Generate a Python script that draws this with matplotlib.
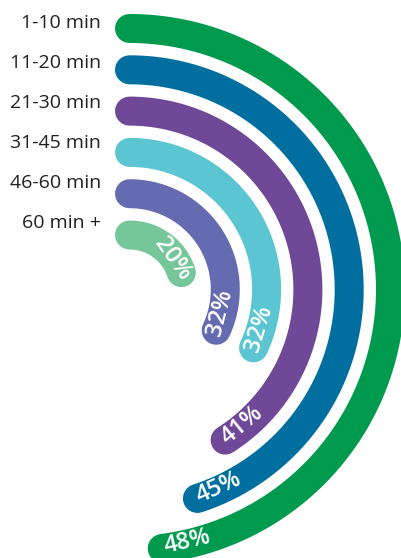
import matplotlib.pyplot as plt
import numpy as np

plt.rcParams['font.family'] = ['Open Sans', 'DejaVu Sans']

# commute time bands, outermost ring first
bands = ["1-10 min", "11-20 min", "21-30 min", "31-45 min", "46-60 min", "60 min +"]
shares = [48, 45, 41, 32, 32, 20]
colors = ["#009a4e", "#006e9f", "#6f4898", "#5bc5d1", "#656bb0", "#75c698"]

W, H = 401, 558
cx, cy = 129.5, 289.5      # ring centre, in pixels
r_outer = 261
ring_step = 41.3
ring_width = 29            # px

fig = plt.figure(figsize=(W / 100, H / 100), dpi=100)
ax = fig.add_axes([0, 0, 1, 1])
ax.set_xlim(0, W)
ax.set_ylim(H, 0)
ax.axis('off')

lw_pt = ring_width * 72 / 100

for i, (name, pct, col) in enumerate(zip(bands, shares, colors)):
    r = r_outer - ring_step * i
    end = pct / 100 * 2 * np.pi
    th = np.linspace(0, end, 400)
    ax.plot(cx + r * np.sin(th), cy - r * np.cos(th), color=col,
            lw=lw_pt, solid_capstyle='round')

    # percentage written along the bar, a little before its end
    back = 14 + 0.045 * r
    tl = end - back / r
    rot = -np.degrees(tl)
    if rot < -90:
        rot += 180
    ax.text(cx + (r - 2) * np.sin(tl), cy - (r - 2) * np.cos(tl), f"{pct}%",
            color='white', fontsize=17, fontweight='semibold',
            rotation=rot, rotation_mode='anchor', ha='center', va='center')

    # band name to the left of the ring start
    ax.text(101, 22.5 + 40 * i, name, color='#231f20', fontsize=14,
            ha='right', va='center')

fig.savefig("out.png", dpi=100)
